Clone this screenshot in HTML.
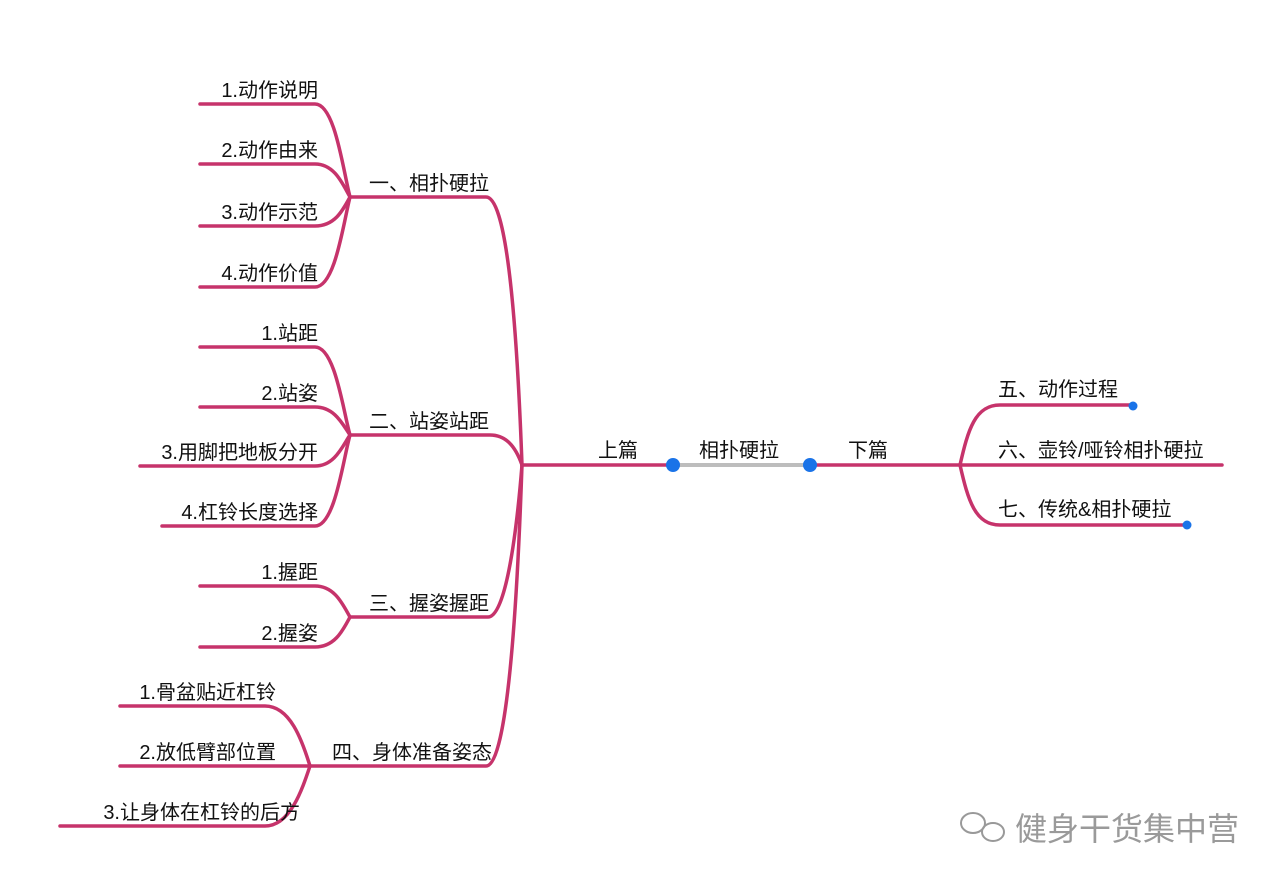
<!DOCTYPE html>
<html><head><meta charset="utf-8"><style>
body{margin:0;background:#fff;}
svg text{font-family:"Liberation Sans","Noto Sans CJK SC",sans-serif;font-size:20px;fill:#111;}
</style></head><body>
<svg width="1280" height="885" viewBox="0 0 1280 885" xmlns="http://www.w3.org/2000/svg">
<g fill="none" stroke="#c6336b" stroke-width="3.5" stroke-linecap="round">
<path d="M350,197 H486 C505,197 516,300 522,465"/>
<path d="M350,435 H490 C505,435 515,445 522,465"/>
<path d="M350,617 H488 C505,617 516,540 522,465"/>
<path d="M310,766 H486 C505,766 516,640 522,465"/>
<path d="M200,104 H315 C335,104 343,170 350,197"/>
<path d="M200,164 H315 C335,164 343,185 350,197"/>
<path d="M200,226 H315 C335,226 343,210 350,197"/>
<path d="M200,287 H315 C335,287 343,225 350,197"/>
<path d="M200,347 H315 C335,347 343,410 350,435"/>
<path d="M200,407 H315 C335,407 343,425 350,435"/>
<path d="M140,466 H315 C335,466 343,445 350,435"/>
<path d="M162,526 H315 C335,526 343,460 350,435"/>
<path d="M200,586 H315 C335,586 343,605 350,617"/>
<path d="M200,647 H315 C335,647 343,630 350,617"/>
<path d="M120,706 H265 C290,706 302,740 310,766"/>
<path d="M120,766 H310"/>
<path d="M60,826 H265 C290,826 302,790 310,766"/>
<path d="M522,465 H673"/>
<path d="M810,465 H960"/>
<path d="M960,465 C968,430 975,405 1000,405 H1133"/>
<path d="M960,465 H1222"/>
<path d="M960,465 C968,500 975,525 1000,525 H1187"/>
</g>
<line x1="673" y1="465" x2="810" y2="465" stroke="#bdbdbd" stroke-width="4"/>
<circle cx="673" cy="465" r="7" fill="#1a73e8"/>
<circle cx="810" cy="465" r="7" fill="#1a73e8"/>
<circle cx="1133" cy="406" r="4.5" fill="#1a73e8"/>
<circle cx="1187" cy="525" r="4.5" fill="#1a73e8"/>
<g text-anchor="end">
<text x="318" y="97">1.动作说明</text>
<text x="318" y="157">2.动作由来</text>
<text x="318" y="219">3.动作示范</text>
<text x="318" y="280">4.动作价值</text>
<text x="318" y="340">1.站距</text>
<text x="318" y="400">2.站姿</text>
<text x="318" y="459">3.用脚把地板分开</text>
<text x="318" y="519">4.杠铃长度选择</text>
<text x="318" y="579">1.握距</text>
<text x="318" y="640">2.握姿</text>
<text x="276" y="699">1.骨盆贴近杠铃</text>
<text x="276" y="759">2.放低臂部位置</text>
<text x="300" y="819">3.让身体在杠铃的后方</text>
<text x="489" y="190">一、相扑硬拉</text>
<text x="489" y="428">二、站姿站距</text>
<text x="489" y="610">三、握姿握距</text>
<text x="492" y="759">四、身体准备姿态</text>
</g>
<text x="598" y="457">上篇</text>
<text x="699" y="457">相扑硬拉</text>
<text x="848" y="457">下篇</text>
<text x="998" y="396">五、动作过程</text>
<text x="998" y="457">六、壶铃/哑铃相扑硬拉</text>
<text x="998" y="516">七、传统&amp;相扑硬拉</text>
<g fill="none" stroke="#999" stroke-width="2">
<ellipse cx="973" cy="823" rx="12" ry="10"/>
<ellipse cx="993" cy="832" rx="11" ry="9"/>
</g>
<text x="1015" y="840" style="font-size:32px;fill:#9a9a9a">健身干货集中营</text>
</svg>
</body></html>
